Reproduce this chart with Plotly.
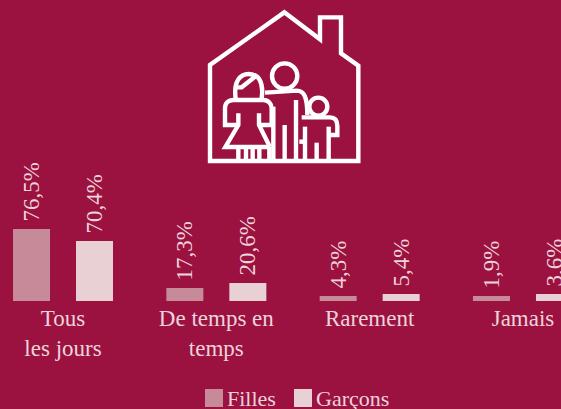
import plotly.graph_objects as go

W, H = 561, 409
BASE_Y = 301

categories = ["Tous<br>les jours", "De temps en<br>temps", "Rarement", "Jamais"]
# bar heights as drawn in the picture (they do not follow the printed labels exactly)
filles_heights = [72, 13, 5, 5]
garcons_heights = [60, 18, 7, 7]
filles_labels = ["76,5%", "17,3%", "4,3%", "1,9%"]
garcons_labels = ["70,4%", "20,6%", "5,4%", "3,6%"]
series_names = ["Filles", "Garçons"]

BG = "#9B1240"
C_F = "#C68A98"
C_G = "#E8D0D4"
TXT = "#EFD3DA"
FONT = "Liberation Serif"

BAND = 153.33
fig = go.Figure()
for name, ys, labs, col, off in [
    (series_names[0], filles_heights, filles_labels, C_F, -50 / BAND),
    (series_names[1], garcons_heights, garcons_labels, C_G, 13 / BAND),
]:
    fig.add_trace(go.Bar(
        x=categories, y=ys, name=name, text=labs,
        texttemplate="\u2009%{text}",
        width=37 / BAND, offset=off,
        textposition="outside", textangle=-90, cliponaxis=False, constraintext="none",
        marker=dict(color=col, line=dict(width=0)),
        textfont=dict(family=FONT, size=23, color=TXT),
        showlegend=False,
    ))


def px(x):
    return x / W


def py(y):
    return 1 - y / H


def path(points, close=False):
    s = "M" + " L".join(f"{px(x):.5f},{py(y):.5f}" for x, y in points)
    return s + (" Z" if close else "")


def z(points):
    return [(190 + a / 3, b / 3) for a, b in points]


def zcurve(cmds):
    out = []
    for c, pts in cmds:
        out.append(c + " ".join(f"{px(190 + a / 3):.5f},{py(b / 3):.5f}" for a, b in pts))
    return " ".join(out)


WHITE = "#FFFFFF"
LW = 4.4
line = dict(color=WHITE, width=LW)
shapes = []


def add_poly(points, close=False, width=LW):
    shapes.append(dict(type="path", xref="paper", yref="paper", path=path(z(points), close),
                       line=dict(color=WHITE, width=width), layer="above"))


def add_curve(cmds, width=LW):
    shapes.append(dict(type="path", xref="paper", yref="paper", path=zcurve(cmds),
                       line=dict(color=WHITE, width=width), layer="above"))


def add_circle(cx, cy, r):
    shapes.append(dict(type="circle", xref="paper", yref="paper",
                       x0=px(190 + (cx - r) / 3), x1=px(190 + (cx + r) / 3),
                       y0=py((cy + r) / 3), y1=py((cy - r) / 3),
                       line=line, layer="above"))


# house
add_poly([(60, 483), (60, 195), (283, 37), (390, 118), (390, 52), (453, 52), (453, 160), (505, 197), (505, 483)], True)
# father
add_circle(284, 228, 38)
add_curve([("M", [(225, 278)]), ("L", [(320, 272)]), ("C", [(342, 272), (352, 290), (352, 345)])])
add_poly([(250, 320), (250, 483)])
add_poly([(284, 375), (284, 483)])
add_poly([(318, 300), (318, 483)])
# mother hair
add_curve([("M", [(137, 295)]), ("C", [(130, 245), (150, 222), (176, 222)]), ("C", [(205, 222), (222, 245), (215, 295)])])
add_poly([(137, 262), (155, 262), (195, 230)])
# mother body
add_curve([("M", [(143, 375)]), ("L", [(105, 375)]), ("L", [(105, 325)]), ("C", [(105, 310), (115, 300), (130, 300)]),
           ("L", [(220, 300)]), ("C", [(235, 300), (245, 312), (245, 325)]), ("L", [(245, 375)]), ("L", [(208, 375)])])
add_poly([(145, 340), (145, 375), (106, 441), (240, 441)])
add_poly([(207, 340), (207, 375), (240, 441)])
for xx in (145, 168, 188, 208, 238):
    add_poly([(xx, 441), (xx, 483)])
# boy
add_circle(385, 320, 27)
add_curve([("M", [(335, 352)]), ("L", [(420, 352)]), ("C", [(435, 352), (442, 362), (442, 378)]), ("L", [(442, 405)]), ("L", [(416, 405)])])
add_poly([(345, 380), (345, 483)])
add_poly([(416, 380), (416, 483)])
add_poly([(380, 428), (380, 483)])
add_poly([(328, 425), (345, 425)])

# legend swatches and labels
legend_items = [(205, series_names[0], C_F), (294, series_names[1], C_G)]
annotations = []
for x0, name, col in legend_items:
    shapes.append(dict(type="rect", xref="paper", yref="paper", x0=px(x0), x1=px(x0 + 18),
                       y0=py(407), y1=py(389), fillcolor=col, line=dict(width=0)))
    annotations.append(dict(text=name, xref="paper", yref="paper", x=px(x0 + 20), y=py(398),
                            xanchor="left", yanchor="middle", showarrow=False,
                            font=dict(family=FONT, size=22, color=TXT)))

fig.update_layout(
    width=W, height=H, margin=dict(l=0, r=0, t=0, b=0),
    paper_bgcolor=BG, plot_bgcolor=BG,
    barmode="overlay",
    showlegend=False, shapes=shapes, annotations=annotations,
    xaxis=dict(domain=[0, 1], type="category", range=[-0.411, 3.248], showgrid=False, zeroline=False,
               showline=False, ticks="", tickangle=0, ticklabelstandoff=1,
               tickfont=dict(family=FONT, size=23, color=TXT)),
    yaxis=dict(domain=[1 - BASE_Y / H, 1], range=[0, BASE_Y], visible=False),
)
fig.write_html("out.html", config={"displayModeBar": False},
               post_script="document.body.style.margin='0';document.body.style.overflow='hidden';document.body.style.background='#9B1240';")
